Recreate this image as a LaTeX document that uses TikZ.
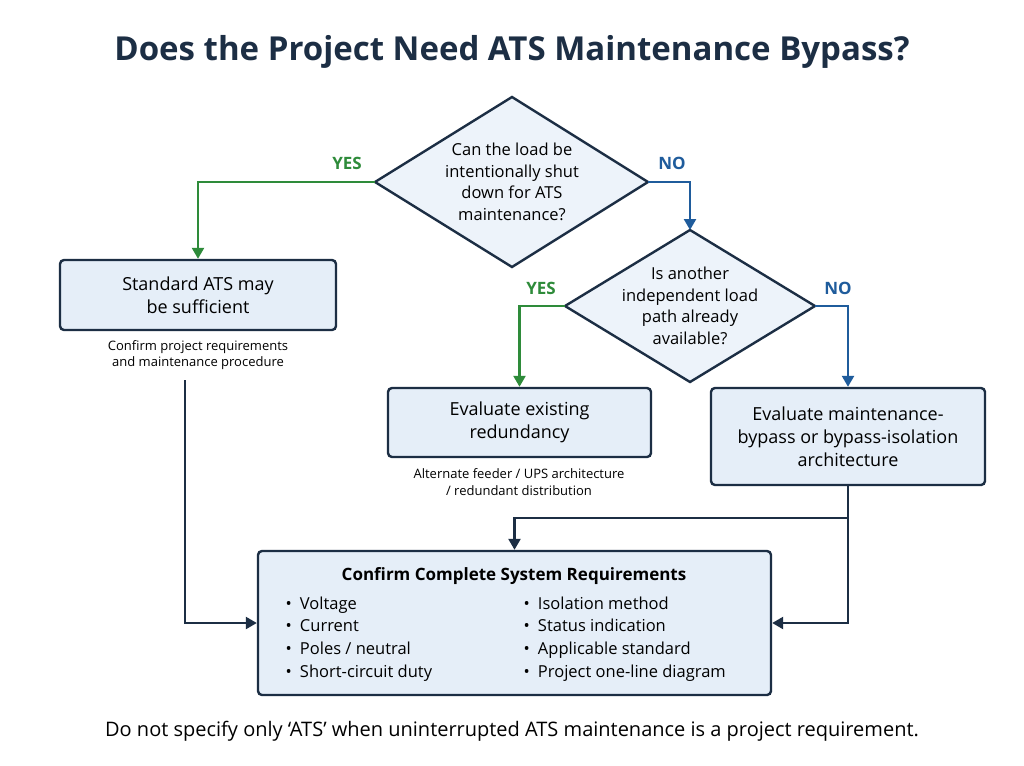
\documentclass[tikz,border=0pt]{standalone}
\usepackage{fontspec}
\setmainfont{Open Sans}
\usetikzlibrary{shapes.geometric,arrows.meta}
\definecolor{navy}{HTML}{1C2E44}
\definecolor{boxfill}{HTML}{E5EEF8}
\definecolor{gr}{HTML}{2E8B3A}
\definecolor{bl}{HTML}{1F5C9C}
\begin{document}
\begin{tikzpicture}[x=1pt,y=-1pt,
  box/.style={draw=navy,line width=2.4pt,fill=boxfill,rounded corners=4pt,align=center,font=\fontsize{18}{23}\selectfont,text=black},
  dtext/.style={align=center,font=\fontsize{16.5}{21.5}\selectfont},
  dia/.style={draw=navy,line width=2.4pt,fill=boxfill!70!white,line join=miter},
  note/.style={align=center,font=\fontsize{13}{16.5}\selectfont},
  lab/.style={font=\bfseries\fontsize{17}{20}\selectfont},
  ga/.style={draw=gr,line width=2.4pt,-{Triangle[length=11pt,width=12pt]}},
  ba/.style={draw=bl,line width=2.4pt,-{Triangle[length=11pt,width=12pt]}},
  na/.style={draw=navy,line width=2.4pt,-{Triangle[length=11pt,width=12pt]}}]
\useasboundingbox[fill=white] (0,0) rectangle (1024,765);
\node[font=\bfseries\fontsize{33}{38}\selectfont,text=navy] (title) at (512,52) {Does the Project Need ATS Maintenance Bypass?};
% diamond 1
\coordinate (d1n) at (512,97); \coordinate (d1s) at (512,267);
\coordinate (d1w) at (375,182); \coordinate (d1e) at (648,182);
\draw[dia] (d1n) -- (d1e) -- (d1s) -- (d1w) -- cycle;
\node[dtext] (d1) at (512,182) {Can the load be\\intentionally shut\\down for ATS\\maintenance?};
% diamond 2
\coordinate (d2n) at (690,230); \coordinate (d2s) at (690,382);
\coordinate (d2w) at (565,306); \coordinate (d2e) at (815,306);
\draw[dia] (d2n) -- (d2e) -- (d2s) -- (d2w) -- cycle;
\node[dtext] (d2) at (690,306) {Is another\\independent load\\path already\\available?};
\node[box,minimum width=276pt,minimum height=70pt] (b1) at (198,295) {Standard ATS may\\be sufficient};
\node[box,minimum width=263pt,minimum height=69pt] (b2) at (519.5,422.5) {Evaluate existing\\redundancy};
\node[box,minimum width=274pt,minimum height=97pt] (b3) at (848,436.5) {Evaluate maintenance-\\bypass or bypass-isolation\\architecture};
\node[box,minimum width=513pt,minimum height=144pt] (b4) at (514.5,623) {};
\node[note] (n1) at (198,355) {Confirm project requirements\\and maintenance procedure};
\node[note] (n2) at (519,482) {Alternate feeder / UPS architecture\\/ redundant distribution};
\node[font=\bfseries\fontsize{17}{21}\selectfont] (t4) at (514,576) {Confirm Complete System Requirements};
\node[anchor=north west,align=left,font=\fontsize{16.5}{22.7}\selectfont] (l4) at (282,593) {•\enspace Voltage\\•\enspace Current\\•\enspace Poles / neutral\\•\enspace Short-circuit duty};
\node[anchor=north west,align=left,font=\fontsize{16.5}{22.7}\selectfont] (r4) at (520,593) {•\enspace Isolation method\\•\enspace Status indication\\•\enspace Applicable standard\\•\enspace Project one-line diagram};
\node[lab,text=gr] (y1) at (347,163) {YES};
\node[lab,text=bl] (no1) at (672,163) {NO};
\node[lab,text=gr] (y2) at (541,288) {YES};
\node[lab,text=bl] (no2) at (838,288) {NO};
\node[font=\fontsize{20}{24}\selectfont] (foot) at (512,731) {Do not specify only ‘ATS’ when uninterrupted ATS maintenance is a project requirement.};
\coordinate (j1) at (848,518);
\coordinate (j2) at (185,380);
\draw[ga] (d1w) -| (b1.north);
\draw[ba] (d1e) -| (d2n);
\draw[ga] (d2w) -| (b2.north);
\draw[ba] (d2e) -| (b3.north);
\draw[na] (b3.south) |- (b4.east);
\draw[na] (j1) -| (b4.north);
\draw[na] (j2) |- (b4.west);
\end{tikzpicture}
\end{document}
